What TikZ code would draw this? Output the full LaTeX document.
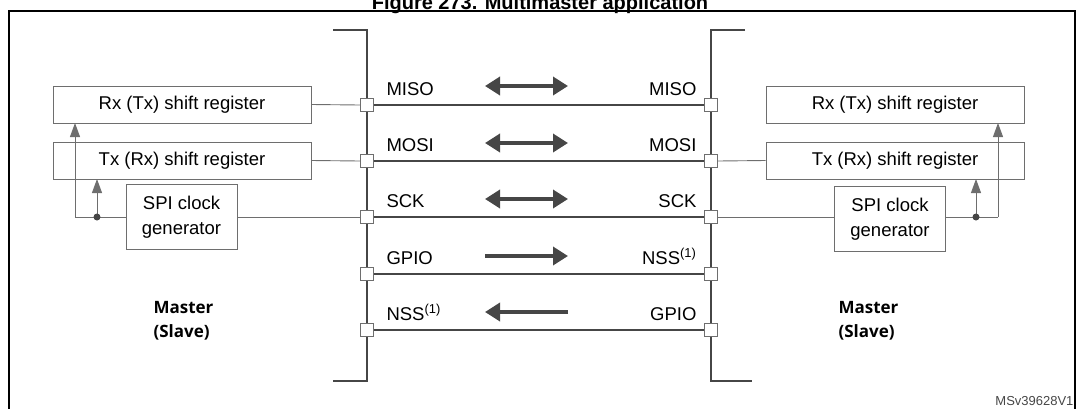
\documentclass[tikz,border=0pt]{standalone}
\usepackage{fontspec}
\setmainfont{Liberation Sans}
\newfontfamily\labelfont{Open Sans}
\usetikzlibrary{arrows.meta}
\definecolor{wire}{RGB}{70,70,70}
\definecolor{boxline}{RGB}{110,110,110}
\tikzset{
  regbox/.style={draw=boxline, line width=0.9pt, minimum width=258pt, minimum height=37pt, font=\fontsize{18.5}{20}\selectfont},
  clkbox/.style={draw=boxline, line width=0.9pt, minimum width=111pt, minimum height=65pt, align=center, font=\fontsize{18.5}{25}\selectfont},
  pin/.style={draw=boxline, fill=white, line width=0.8pt, minimum size=13pt, inner sep=0pt},
  sig/.style={font=\fontsize{18.5}{20}\selectfont, anchor=base},
  thin wire/.style={draw=boxline, line width=0.9pt},
  bus/.style={draw=wire, line width=1.6pt},
  bigarrow/.style={draw=wire, line width=3.5pt, -{Triangle[length=15pt,width=18pt]}},
  bigboth/.style={draw=wire, line width=3.5pt, {Triangle[length=15pt,width=18pt]}-{Triangle[length=15pt,width=18pt]}},
  uparrow/.style={draw=boxline, line width=0.9pt, -{Triangle[length=14pt,width=10pt]}},
  role/.style={font=\labelfont\bfseries\fontsize{17}{24}\selectfont, align=left, anchor=north west}
}
\begin{document}
\begin{tikzpicture}[x=1pt,y=-1pt]
\useasboundingbox (0,0) rectangle (1079,408);

% title and frame
\node[font=\bfseries\fontsize{20}{22}\selectfont, anchor=base] (title) at (540,9) {Figure 273. Multimaster application};
\draw[line width=1.2pt] (9,411) -- (9,11) -- (1075,11) -- (1075,411);

% the two buses
\draw[bus] (333,30) -- (367,30) -- (367,381) -- (333,381);
\draw[bus] (745,30) -- (711,30) -- (711,381) -- (752,381);

% signal lines, pins and labels
\foreach \y/\l/\r [count=\i] in {105/MISO/MISO, 161/MOSI/MOSI, 217/SCK/SCK, 274/GPIO/NSS\textsuperscript{(1)}, 330/NSS\textsuperscript{(1)}/GPIO} {
  \draw[bus, line width=1.4pt] (367,\y) -- (711,\y);
  \node[pin] (lp\i) at (367,\y) {};
  \node[pin] (rp\i) at (711,\y) {};
  \node[sig, anchor=base west] (ll\i) at (383,\y-10) {\l};
  \node[sig, anchor=base east] (rl\i) at (700,\y-10) {\r};
}

% direction arrows
\foreach \y in {86,143,199}
  \draw[bigboth] (485,\y) -- (568,\y);
\draw[bigarrow] (485,256) -- (568,256);
\draw[bigarrow] (568,312) -- (485,312);

% left side
\node[regbox] (lrx) at (182,104.5) {Rx (Tx) shift register};
\node[regbox] (ltx) at (182,160.5) {Tx (Rx) shift register};
\node[clkbox] (lclk) at (181.5,217) {SPI clock\\generator};
\draw[thin wire] (lrx.east) -- (lp1.west);
\draw[thin wire] (ltx.east) -- (lp2.west);
\draw[thin wire] (lclk.east) -- (lp3.west);
\coordinate (ldot) at (97,217);
\draw[thin wire] (lclk.west) -- (75,217);
\draw[uparrow] (75,217) -- (75,123);
\draw[uparrow] (ldot) -- (97,179);
\fill[wire] (ldot) circle (3.5pt);
\node[role] (lrole) at (150,298) {Master\\(Slave)};

% right side
\node[regbox] (rrx) at (895,104.5) {Rx (Tx) shift register};
\node[regbox] (rtx) at (895,160.5) {Tx (Rx) shift register};
\node[clkbox] (rclk) at (890,219) {SPI clock\\generator};
\draw[thin wire] (rp2.east) -- (rtx.west);
\draw[thin wire] (rp3.east) -- (rclk.west |- rp3);
\coordinate (rdot) at (976,217);
\draw[thin wire] (rclk.east |- rdot) -- (998,217);
\draw[uparrow] (998,217) -- (998,123);
\draw[uparrow] (rdot) -- (976,179);
\fill[wire] (rdot) circle (3.5pt);
\node[role] (rrole) at (835,298) {Master\\(Slave)};

% reference code
\node[font=\fontsize{13}{15}\selectfont, anchor=base east, text=wire] (ref) at (1077,405) {MSv39628V1};
\end{tikzpicture}
\end{document}
